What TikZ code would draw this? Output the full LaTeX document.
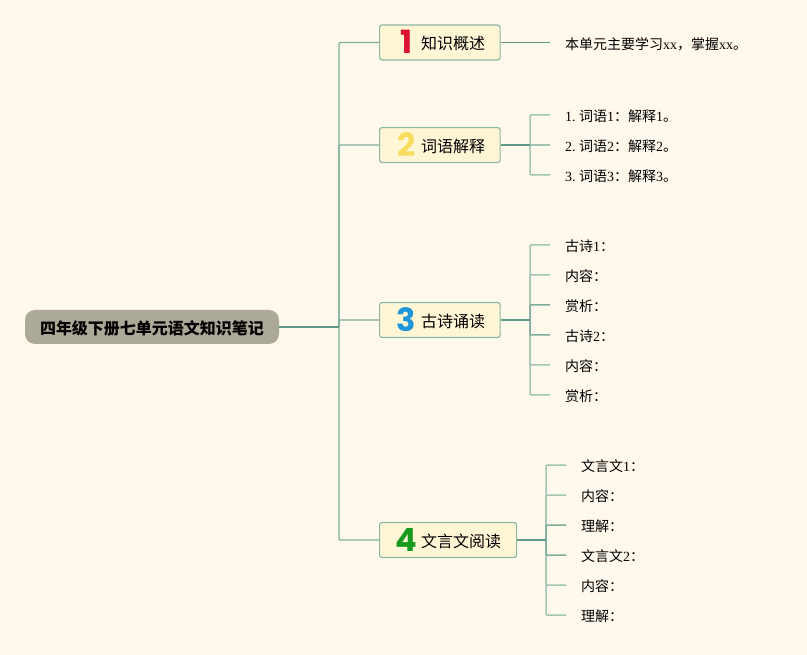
\documentclass[tikz,border=0pt]{standalone}
\usepackage{fontspec}
\setmainfont{Liberation Serif}
\newfontfamily\cjk{Noto Sans CJK SC}
\newfontfamily\digitfont{Poppins}
\definecolor{bgc}{HTML}{FFF8EC}
\definecolor{rootc}{HTML}{ADA998}
\definecolor{boxc}{HTML}{FFF6D6}
\definecolor{edgec}{HTML}{8DB8A2}
\definecolor{ln1}{HTML}{5F9A88}
\definecolor{ln2}{HTML}{7FAD9B}
\definecolor{ln3}{HTML}{A2C5B4}
\definecolor{rednum}{HTML}{DC1430}
\definecolor{yelnum}{HTML}{F8DC5E}
\definecolor{blunum}{HTML}{1F96D8}
\definecolor{grenum}{HTML}{179A1E}
\tikzset{
 x=1pt,y=-1pt,
 rootbox/.style={fill=rootc,rounded corners=10pt,minimum width=254pt,minimum height=34pt,inner sep=0pt,text height=15pt,text depth=0pt,font=\fontsize{16}{18}\selectfont\cjk\bfseries,text=black},
 topicbox/.style={draw=edgec,line width=1.2pt,fill=boxc,rounded corners=2.5pt,minimum height=35pt,inner sep=0pt,anchor=west},
 digit/.style={inner sep=0pt,font=\fontsize{32}{34}\selectfont\digitfont\bfseries},
 topictext/.style={inner sep=0pt,anchor=west,font=\fontsize{16}{18}\selectfont\cjk,text=black},
 leaf/.style={anchor=west,inner xsep=15pt,inner ysep=0pt,text height=15pt,text depth=2pt,font=\fontsize{14}{16}\selectfont\frenchspacing,text=black},
 dark/.style={draw=ln1,line width=1.7pt},
 mid/.style={draw=ln2,line width=1.5pt,rounded corners=1pt},
 light/.style={draw=ln3,line width=1.5pt,rounded corners=1pt},
 main/.style={draw=ln1,line width=1.3pt,rounded corners=1pt},
 rootline/.style={draw=ln1,line width=1.6pt},
 mainlight/.style={draw=ln2,line width=1.3pt,rounded corners=1pt},
}
\begin{document}
\begin{tikzpicture}
\useasboundingbox[fill=bgc] (0,0) rectangle (807,655);
\node[rootbox] (root) at (152,327) {四年级下册七单元语文知识笔记};
\node[topicbox,minimum width=120.5pt] (t1) at (379,42.5) {};
\node[topicbox,minimum width=120.5pt] (t2) at (379,145) {};
\node[topicbox,minimum width=120.5pt] (t3) at (379,320) {};
\node[topicbox,minimum width=137pt] (t4) at (379,540) {};
\node[digit,text=rednum] (d1) at (407,42) {1};
\node[digit,text=yelnum] (d2) at (406.5,145) {2};
\node[digit,text=blunum] (d3) at (406.5,320) {3};
\node[digit,text=grenum] (d4) at (406.5,540) {4};
\node[topictext] (x1) at (421,43) {知识概述};
\node[topictext] (x2) at (421,146) {词语解释};
\node[topictext] (x3) at (421,321) {古诗诵读};
\node[topictext] (x4) at (421,541) {文言文阅读};
\node[leaf,text height=17pt] (a1) at (550,42.5) {{\cjk 本单元主要学习}xx{\cjk ，掌握}xx{\cjk 。}};
\node[leaf] (b1) at (550,115) {1. {\cjk 词语}1{\cjk ：解释}1{\cjk 。}};
\node[leaf] (b2) at (550,145) {2. {\cjk 词语}2{\cjk ：解释}2{\cjk 。}};
\node[leaf] (b3) at (550,175) {3. {\cjk 词语}3{\cjk ：解释}3{\cjk 。}};
\node[leaf] (c1) at (550,245) {{\cjk 古诗}1{\cjk ：}};
\node[leaf] (c2) at (550,275) {{\cjk 内容：}};
\node[leaf] (c3) at (550,305) {{\cjk 赏析：}};
\node[leaf] (c4) at (550,335) {{\cjk 古诗}2{\cjk ：}};
\node[leaf] (c5) at (550,365) {{\cjk 内容：}};
\node[leaf] (c6) at (550,395) {{\cjk 赏析：}};
\node[leaf] (e1) at (566,465) {{\cjk 文言文}1{\cjk ：}};
\node[leaf] (e2) at (566,495) {{\cjk 内容：}};
\node[leaf] (e3) at (566,525) {{\cjk 理解：}};
\node[leaf] (e4) at (566,555) {{\cjk 文言文}2{\cjk ：}};
\node[leaf] (e5) at (566,585) {{\cjk 内容：}};
\node[leaf] (e6) at (566,615) {{\cjk 理解：}};
% junctions
\coordinate (jr) at (339,327);
\coordinate (j2) at (530,145);
\coordinate (j3) at (530,320);
\coordinate (j4) at (546,540);
% main connectors
\draw[mainlight] (jr) |- (t4.west);
\draw[mainlight] (jr) |- (t1.west);
\draw[mainlight] (jr) |- (t2.west);
\draw[mainlight] (jr) |- (t3.west);
\draw[rootline] (root.east) -- (jr);
% topic 1
\draw[main] (t1.east) -- (a1.west);
% topic 2
\draw[light] (j2) |- (b1.west);
\draw[light] (j2) |- (b3.west);
\draw[light] (j2) -- (b2.west);
\draw[dark] (t2.east) -- (j2);
% topic 3
\draw[light] (j3) |- (c1.west);
\draw[light] (j3) |- (c6.west);
\draw[light] (j3) |- (c2.west);
\draw[light] (j3) |- (c5.west);
\draw[mid] (j3) |- (c3.west);
\draw[mid] (j3) |- (c4.west);
\draw[dark] (t3.east) -- (j3);
% topic 4
\draw[light] (j4) |- (e1.west);
\draw[light] (j4) |- (e6.west);
\draw[light] (j4) |- (e2.west);
\draw[light] (j4) |- (e5.west);
\draw[mid] (j4) |- (e3.west);
\draw[mid] (j4) |- (e4.west);
\draw[dark] (t4.east) -- (j4);
\end{tikzpicture}
\end{document}
